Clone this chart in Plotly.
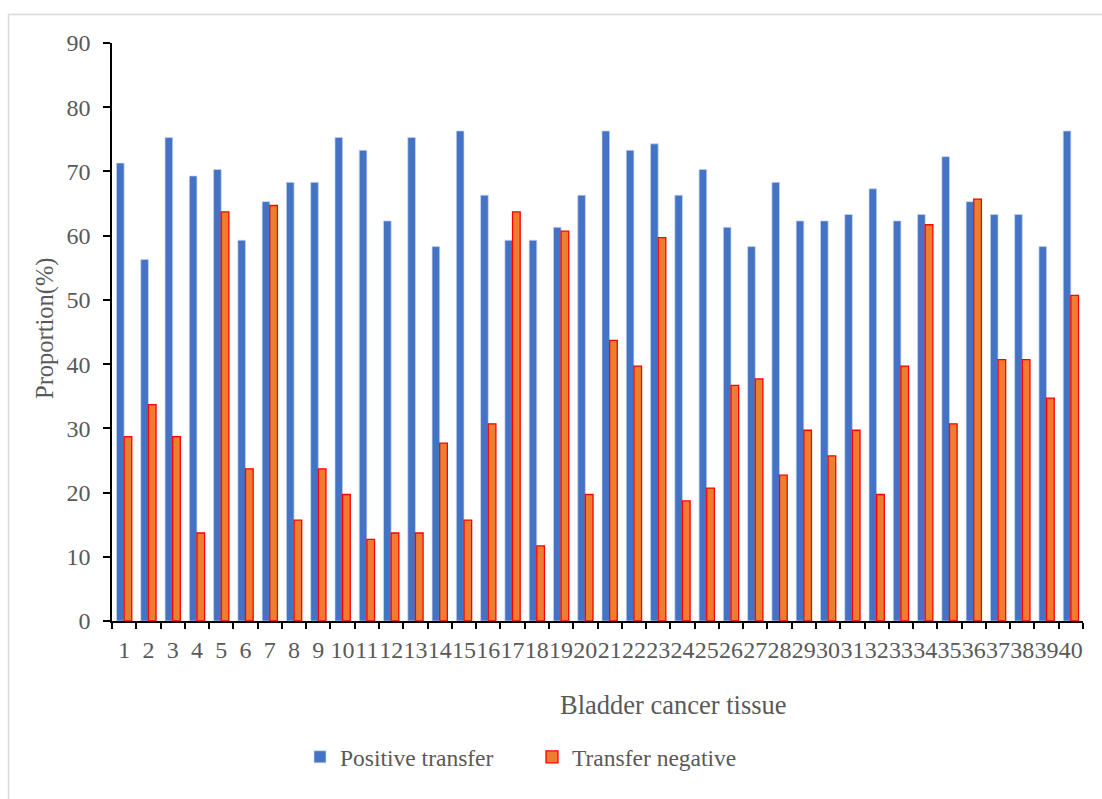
import plotly.graph_objects as go

categories = [str(i) for i in range(1, 41)]
positive_transfer = [71.3, 56.3, 75.3, 69.3, 70.3, 59.3, 65.3, 68.3, 68.3, 75.3,
                     73.3, 62.3, 75.3, 58.3, 76.3, 66.3, 59.3, 59.3, 61.3, 66.3,
                     76.3, 73.3, 74.3, 66.3, 70.3, 61.3, 58.3, 68.3, 62.3, 62.3,
                     63.3, 67.3, 62.3, 63.3, 72.3, 65.3, 63.3, 63.3, 58.3, 76.3]
transfer_negative = [28.7, 33.7, 28.7, 13.7, 63.7, 23.7, 64.7, 15.7, 23.7, 19.7,
                     12.7, 13.7, 13.7, 27.7, 15.7, 30.7, 63.7, 11.7, 60.7, 19.7,
                     43.7, 39.7, 59.7, 18.7, 20.7, 36.7, 37.7, 22.7, 29.7, 25.7,
                     29.7, 19.7, 39.7, 61.7, 30.7, 65.7, 40.7, 40.7, 34.7, 50.7]
y_ticks = [0, 10, 20, 30, 40, 50, 60, 70, 80, 90]
x_title = "Bladder cancer tissue"
y_title = "Proportion(%)"

FONT = "'Liberation Serif', 'Times New Roman', Times, serif"
GREY = "#595959"

fig = go.Figure()
fig.add_trace(go.Bar(
    x=categories, y=positive_transfer, name="Positive transfer",
    marker=dict(color="#4472C4", line=dict(color="rgba(200,215,240,0.9)", width=0.8)),
))
fig.add_trace(go.Bar(
    x=categories, y=transfer_negative, name="Transfer negative",
    marker=dict(color="#ED7D31", line=dict(color="#FF0000", width=1.3)),
))

W, H = 1102, 799
L, R, T, B = 112, 19, 43, 178
pw, ph = W - L - R, H - T - B

def px_x(p):
    return (p - L) / pw

def px_y(p):
    return (H - B - p) / ph

fig.update_layout(
    width=W, height=H,
    margin=dict(l=L, r=R, t=T, b=B, autoexpand=False),
    paper_bgcolor="white", plot_bgcolor="white",
    barmode="group", bargap=0.37, bargroupgap=0.0,
    font=dict(family=FONT, color=GREY, size=24),
    showlegend=True,
    legend=dict(
        orientation="h", x=px_x(300), y=px_y(757), xanchor="left", yanchor="middle",
        font=dict(family=FONT, size=23.5, color=GREY),
        entrywidth=187, entrywidthmode="pixels",
        itemwidth=30, traceorder="normal",
    ),
    xaxis=dict(
        type="category", automargin=False, tickangle=0,
        tickmode="array", tickvals=categories, ticktext=categories,
        showline=True, linecolor="black", linewidth=1.5,
        ticks="outside", tickson="boundaries", ticklen=6, tickwidth=1.5, tickcolor="black",
        ticklabelstandoff=6,
        tickfont=dict(family=FONT, size=24, color=GREY),
        showgrid=False, zeroline=False,
    ),
    yaxis=dict(
        range=[0, 90], tickvals=y_ticks, automargin=False,
        showline=True, linecolor="black", linewidth=1.5,
        ticks="outside", ticklen=7, tickwidth=1.5, tickcolor="black",
        ticklabelstandoff=8,
        tickfont=dict(family=FONT, size=24, color=GREY),
        showgrid=False, zeroline=False,
    ),
    annotations=[
        dict(text=x_title, xref="paper", yref="paper", x=px_x(673), y=px_y(705),
             xanchor="center", yanchor="middle", showarrow=False,
             font=dict(family=FONT, size=26.5, color=GREY)),
        dict(text=y_title, xref="paper", yref="paper", x=px_x(45), y=px_y(328),
             xanchor="center", yanchor="middle", showarrow=False, textangle=-90,
             font=dict(family=FONT, size=24.5, color=GREY)),
    ],
    shapes=[dict(
        type="rect", xref="paper", yref="paper",
        x0=px_x(8.5), x1=px_x(1115), y0=px_y(815), y1=px_y(14.5),
        line=dict(color="#D9D9D9", width=1.5), fillcolor="rgba(0,0,0,0)", layer="below",
    )],
)

fig.write_html("out.html", config={"displayModeBar": False},
               post_script="document.body.style.margin='0';")
